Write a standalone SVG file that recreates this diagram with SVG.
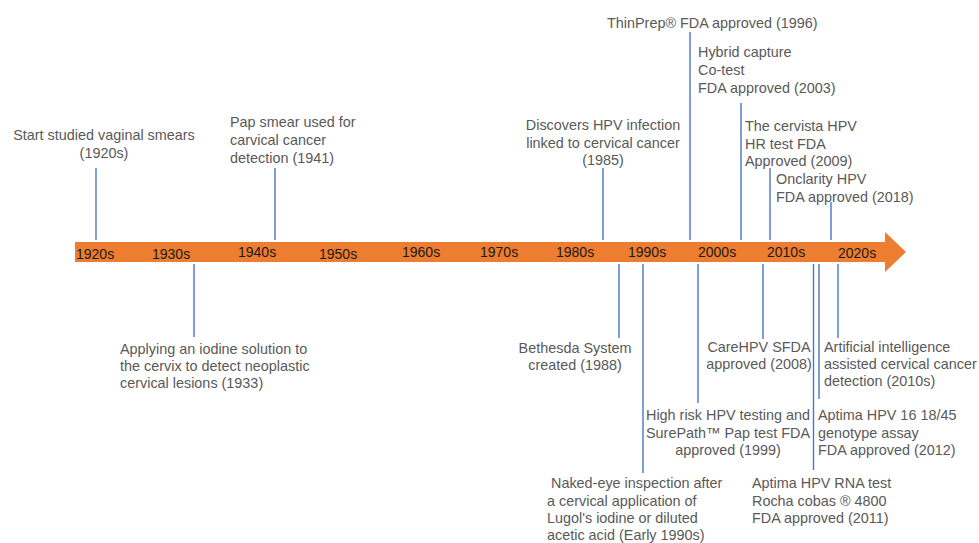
<svg xmlns="http://www.w3.org/2000/svg" width="979" height="543" viewBox="0 0 979 543">
<style>
.t{font-family:"Liberation Sans",Arial,sans-serif;font-size:14.4px;fill:#595959}
.y{font-family:"Liberation Sans",Arial,sans-serif;font-size:14px;fill:#1a1a1a}
.c{text-anchor:middle}
.l{stroke:#4a76c8;stroke-width:1.4;fill:none}
</style>
<rect width="979" height="543" fill="#ffffff"/>
<g id="timeline">
<polygon points="75,242 885,242 885,232 906,252 885,272 885,262 75,262" fill="#ED7D31"/>
<text class="y" x="76" y="259">1920s</text>
<text class="y" x="152" y="259">1930s</text>
<text class="y" x="238" y="257">1940s</text>
<text class="y" x="319" y="259">1950s</text>
<text class="y" x="402" y="257">1960s</text>
<text class="y" x="480" y="257">1970s</text>
<text class="y" x="556" y="257">1980s</text>
<text class="y" x="628" y="257">1990s</text>
<text class="y" x="698" y="257">2000s</text>
<text class="y" x="767" y="257">2010s</text>
<text class="y" x="838" y="258">2020s</text>
</g>
<g id="connectors">
<line class="l" x1="96" y1="168" x2="96" y2="240"/>
<line class="l" x1="275" y1="168" x2="275" y2="240"/>
<line class="l" x1="603" y1="168" x2="603" y2="240"/>
<line class="l" x1="690" y1="32" x2="690" y2="240"/>
<line class="l" x1="741" y1="103" x2="741" y2="240"/>
<line class="l" x1="770" y1="168" x2="770" y2="240"/>
<line class="l" x1="831" y1="202" x2="831" y2="240"/>
<line class="l" x1="194" y1="264" x2="194" y2="337"/>
<line class="l" x1="619" y1="264" x2="619" y2="338"/>
<line class="l" x1="643" y1="264" x2="643" y2="473"/>
<line class="l" x1="698" y1="264" x2="698" y2="403"/>
<line class="l" x1="763" y1="264" x2="763" y2="339"/>
<line class="l" x1="813.5" y1="264" x2="813.5" y2="470"/>
<line class="l" x1="819" y1="264" x2="819" y2="399"/>
<line class="l" x1="838" y1="264" x2="838" y2="338"/>
</g>
<g id="n1920s"><text class="t c" x="104" y="140">Start studied vaginal smears<tspan x="104" y="158">(1920s)</tspan></text></g>
<g id="n1941"><text class="t" x="230" y="127">Pap smear used for<tspan x="230" y="145">carvical cancer</tspan><tspan x="230" y="163">detection (1941)</tspan></text></g>
<g id="n1985"><text class="t c" x="603" y="130">Discovers HPV infection<tspan x="603" y="147.5">linked to cervical cancer</tspan><tspan x="603" y="165">(1985)</tspan></text></g>
<g id="n1996"><text class="t" x="607" y="28">ThinPrep® FDA approved (1996)</text></g>
<g id="n2003"><text class="t" x="698" y="57">Hybrid capture<tspan x="698" y="75">Co-test</tspan><tspan x="698" y="92.5">FDA approved (2003)</tspan></text></g>
<g id="n2009"><text class="t" x="745" y="131">The cervista HPV<tspan x="745" y="148.5">HR test FDA</tspan><tspan x="745" y="166">Approved (2009)</tspan></text></g>
<g id="n2018"><text class="t" x="776" y="184">Onclarity HPV<tspan x="776" y="201.5">FDA approved (2018)</tspan></text></g>
<g id="n1933"><text class="t" x="120" y="354">Applying an iodine solution to<tspan x="120" y="371">the cervix to detect neoplastic</tspan><tspan x="120" y="388">cervical lesions (1933)</tspan></text></g>
<g id="n1988"><text class="t c" x="575" y="353">Bethesda System<tspan x="575" y="370">created (1988)</tspan></text></g>
<g id="n2008"><text class="t c" x="759" y="352">CareHPV SFDA<tspan x="759" y="369">approved (2008)</tspan></text></g>
<g id="n2010s"><text class="t" x="824" y="352">Artificial intelligence<tspan x="824" y="369">assisted cervical cancer</tspan><tspan x="824" y="386">detection (2010s)</tspan></text></g>
<g id="n1999"><text class="t c" x="728" y="420">High risk HPV testing and<tspan x="728" y="438">SurePath™ Pap test FDA</tspan><tspan x="728" y="455">approved (1999)</tspan></text></g>
<g id="n2012"><text class="t" x="818" y="420">Aptima HPV 16 18/45<tspan x="818" y="438">genotype assay</tspan><tspan x="818" y="455">FDA approved (2012)</tspan></text></g>
<g id="n1990s"><text class="t" x="547" y="488" xml:space="preserve"> Naked-eye inspection after<tspan x="547" y="506">a cervical application of</tspan><tspan x="547" y="523">Lugol's iodine or diluted</tspan><tspan x="547" y="540">acetic acid (Early 1990s)</tspan></text></g>
<g id="n2011"><text class="t" x="752" y="488">Aptima HPV RNA test<tspan x="752" y="506">Rocha cobas ® 4800</tspan><tspan x="752" y="523">FDA approved (2011)</tspan></text></g>
</svg>
